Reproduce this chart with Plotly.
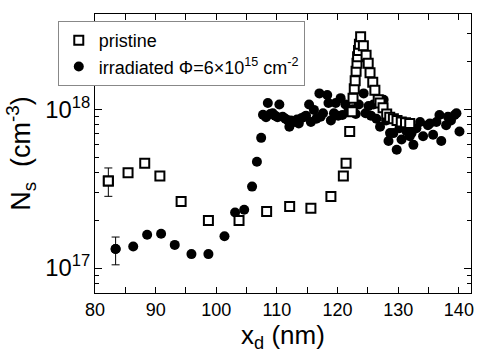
import plotly.graph_objects as go

# pristine sample
pristine_x = [82.2, 85.45, 88.2, 90.7, 94.2, 98.7, 103.75, 108.3, 112.1, 115.6, 118.9,
              120.95, 121.4, 122.0, 122.4, 122.55, 122.75, 122.9, 123.05, 123.2, 123.3,
              123.45, 123.6, 123.8, 124.25, 124.7, 125.05, 125.35, 125.8, 126.15, 126.7,
              127.0, 127.5, 128.1, 128.6, 129.2, 129.8, 130.5, 131.2, 131.9]
pristine_log = [17.549, 17.60, 17.66, 17.58, 17.42, 17.30, 17.30, 17.356, 17.387, 17.377, 17.45,
                17.58, 17.66, 17.86, 17.985, 18.07, 18.13, 18.18, 18.24, 18.29, 18.33,
                18.37, 18.41, 18.457, 18.40, 18.34, 18.29, 18.23, 18.17, 18.12, 18.06,
                18.04, 18.01, 17.97, 17.95, 17.94, 17.93, 17.92, 17.915, 17.91]
pristine_err_plus = 0.73e17
pristine_err_minus = 0.71e17

# irradiated sample
irr_x = [83.4, 86.3, 88.6, 90.9, 93.15, 95.9, 98.7, 101.35, 103.1, 104.6, 105.9, 106.7,
         107.4, 107.7, 108.2, 108.5, 108.9, 109.3, 109.7, 110.1, 110.4, 110.95, 111.4,
         111.8, 112.05, 112.3, 112.8, 113.3, 113.6, 114.0, 114.4, 114.8, 115.3, 115.6,
         116.1, 116.5, 117.0, 117.2, 117.6, 118.3, 118.5, 118.9, 119.4, 119.7, 120.1,
         120.5, 120.8, 121.3, 121.8, 122.5, 123.0, 123.5, 124.3, 124.6, 125.1, 125.5,
         125.9, 126.4, 127.0, 127.6, 128.0, 128.4, 128.65, 129.2, 129.75, 130.2, 130.55,
         130.85, 131.4, 131.9, 132.2, 132.5, 133.0, 133.6, 134.1, 134.9, 135.2, 135.75,
         136.3, 136.8, 137.1, 137.9, 138.2, 138.7, 139.3, 139.6, 140.1]
irr_log = [17.12, 17.136, 17.21, 17.216, 17.146, 17.088, 17.088, 17.20, 17.35, 17.367, 17.513, 17.67,
           17.82, 17.965, 17.95, 18.04, 17.97, 17.975, 17.96, 17.95, 18.03, 17.953, 17.94,
           17.93, 17.89, 17.93, 17.92, 17.935, 17.91, 17.943, 17.95, 17.96, 18.03, 17.92,
           17.996, 17.94, 18.10, 17.953, 17.975, 18.09, 18.04, 17.93, 17.975, 18.04, 17.96,
           18.07, 17.964, 18.03, 17.99, 18.00, 17.97, 18.03, 18.10, 17.975, 18.02, 17.96,
           18.03, 17.94, 17.89, 18.06, 17.93, 17.80, 17.85, 17.85, 17.745, 17.88, 17.81,
           17.91, 17.86, 17.83, 17.85, 17.776, 17.88, 17.92, 17.83, 17.90, 17.91, 17.84,
           17.92, 17.964, 17.80, 17.90, 17.953, 17.93, 17.964, 17.975, 17.86]
irr_err_plus = 0.25e17
irr_err_minus = 0.27e17

# minor tick positions on the log axis
y_minor_ticks = [7e16, 8e16, 9e16, 2e17, 3e17, 4e17, 5e17, 6e17, 7e17, 8e17, 9e17,
                 2e18, 3e18]

pristine_y = [10 ** v for v in pristine_log]
irr_y = [10 ** v for v in irr_log]

FONT = "Liberation Sans, Arial, sans-serif"
YRANGE = [16.843, 18.6]

fig = go.Figure()

fig.add_trace(go.Scatter(
    x=irr_x, y=irr_y, mode="markers",
    name="irradiated \u03a6=6\u00d710<sup>15</sup> cm<sup>-2</sup>",
    marker=dict(symbol="circle", size=10, color="black", line=dict(width=0)),
))
fig.add_trace(go.Scatter(
    x=[irr_x[0]], y=[irr_y[0]], mode="markers", showlegend=False,
    marker=dict(symbol="circle", size=10, color="black", line=dict(width=0)),
    error_y=dict(type="data", array=[irr_err_plus], arrayminus=[irr_err_minus],
                 color="black", thickness=1, width=4),
))
fig.add_trace(go.Scatter(
    x=pristine_x, y=pristine_y, mode="markers", name="pristine",
    marker=dict(symbol="square", size=9, color="white", line=dict(width=2, color="black")),
))
fig.add_trace(go.Scatter(
    x=[pristine_x[0]], y=[pristine_y[0]], mode="markers", showlegend=False,
    marker=dict(symbol="square", size=9, color="white", line=dict(width=2, color="black")),
    error_y=dict(type="data", array=[pristine_err_plus], arrayminus=[pristine_err_minus],
                 color="black", thickness=1, width=4),
))
# empty trace so that the minor-tick overlay axis is drawn
fig.add_trace(go.Scatter(x=[], y=[], yaxis="y2", showlegend=False, hoverinfo="skip"))

fig.update_layout(
    width=480, height=356,
    margin=dict(l=95, r=6, t=14, b=63),
    paper_bgcolor="white", plot_bgcolor="white",
    font=dict(family=FONT, color="black", size=18),
    showlegend=True,
    legend=dict(
        x=-0.099, y=0.975, xanchor="left", yanchor="top",
        bgcolor="white", bordercolor="#888888", borderwidth=1,
        font=dict(family=FONT, size=18, color="black"),
        traceorder="reversed", tracegroupgap=0,
        itemsizing="trace",
    ),
    xaxis=dict(
        range=[80, 142], dtick=10, tick0=80,
        ticks="inside", ticklen=6, tickwidth=1, tickcolor="black",
        minor=dict(dtick=5, tick0=80, ticks="inside", ticklen=3, tickwidth=1,
                   tickcolor="black", showgrid=False),
        showline=True, linecolor="black", linewidth=1, mirror="allticks",
        showgrid=False, zeroline=False,
        tickfont=dict(family=FONT, size=18),
        title=dict(text="x<sub>d</sub> (nm)", font=dict(family=FONT, size=26), standoff=2),
    ),
    yaxis=dict(
        type="log", range=YRANGE, dtick=1,
        exponentformat="power", showexponent="all",
        ticks="inside", ticklen=7, tickwidth=1, tickcolor="black",
        showline=True, linecolor="black", linewidth=1, mirror="allticks",
        showgrid=False, zeroline=False,
        tickfont=dict(family=FONT, size=19),
        title=dict(text="N<sub>s</sub>  (cm<sup>-3</sup>)", font=dict(family=FONT, size=27), standoff=6),
    ),
    yaxis2=dict(
        type="log", range=YRANGE, overlaying="y", side="left",
        tickmode="array", tickvals=y_minor_ticks, showticklabels=False,
        ticks="inside", ticklen=4, tickwidth=1, tickcolor="black",
        showline=False, mirror="ticks",
        showgrid=False, zeroline=False,
    ),
)

fig.write_html("out.html")
